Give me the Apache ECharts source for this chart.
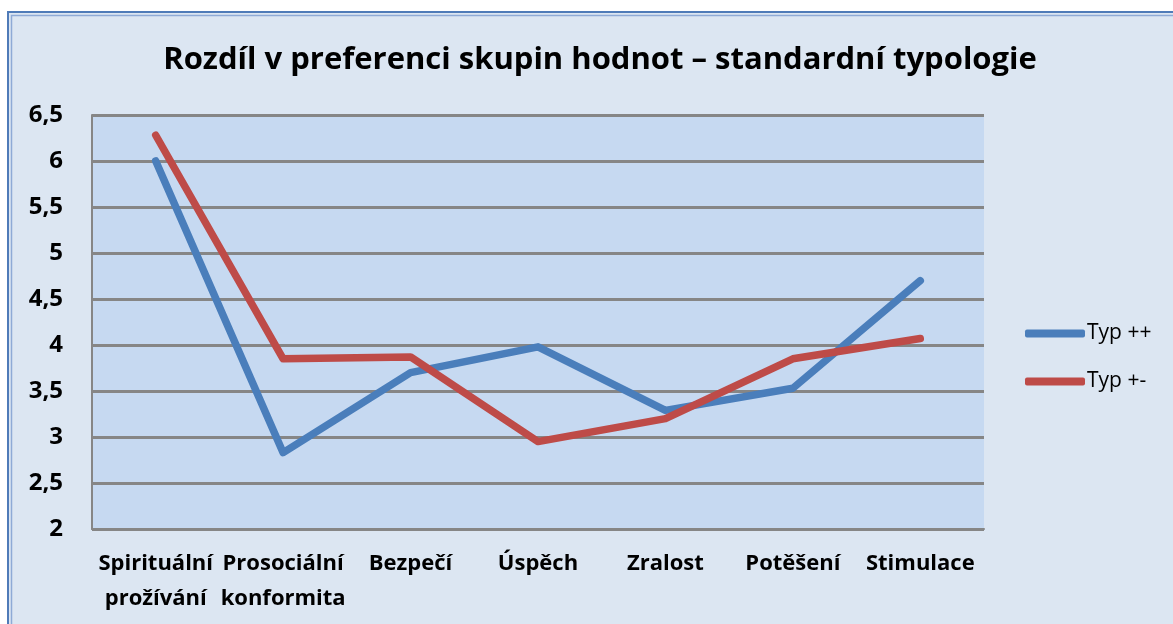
<!DOCTYPE html>
<html lang="cs">
<head>
  <meta charset="UTF-8">
  <title>Rozdíl v preferenci skupin hodnot</title>
  <script src="https://cdn.jsdelivr.net/npm/echarts@6/dist/echarts.min.js"></script>
</head>
<body style="margin:0;background:#fff;">
  <div id="main" style="width:1173px;height:624px;"></div>
<script>
  var categories = ['Spirituální\nprožívání', 'Prosociální\nkonformita', 'Bezpečí', 'Úspěch', 'Zralost', 'Potěšení', 'Stimulace'];
  var typPlusPlus = [6.0, 2.83, 3.70, 3.98, 3.29, 3.53, 4.70];
  var typPlusMinus = [6.28, 3.85, 3.87, 2.95, 3.20, 3.85, 4.07];
  var yTicks = { min: 2, max: 6.5, step: 0.5 };

  var myChart = echarts.init(document.getElementById('main'));
  var font = '"Open Sans", "Noto Sans", sans-serif';

  var option = {
    backgroundColor: '#fff',
    animation: false,
    // rámeček grafu (dvojitá modrá linka)
    graphic: [{
      type: 'rect', z: -10,
      shape: { x: 8, y: 12, width: 1200, height: 700 },
      style: { fill: '#dce6f2', stroke: '#4f7bb8', lineWidth: 2 }
    }, {
      type: 'rect', z: -9,
      shape: { x: 11.5, y: 15.5, width: 1200, height: 700 },
      style: { fill: 'none', stroke: '#8eaad6', lineWidth: 1.5 }
    }],
    title: {
      text: 'Rozdíl v preferenci skupin hodnot – standardní typologie',
      left: 595,
      textAlign: 'center',
      top: 40,
      textStyle: { fontFamily: font, fontWeight: 'bold', fontSize: 31, color: '#000' }
    },
    legend: {
      orient: 'vertical',
      left: 1020,
      top: 318,
      itemWidth: 60,
      itemHeight: 8,
      itemGap: 27,
      icon: 'roundRect',
      textStyle: { fontFamily: font, fontSize: 21, color: '#000', padding: [0, 0, 0, -3] },
      data: ['Typ ++', 'Typ +-']
    },
    grid: {
      left: 92, top: 115, right: 189, bottom: 95,
      show: true,
      backgroundColor: '#c6d9f1',
      borderWidth: 0
    },
    xAxis: {
      type: 'category',
      data: categories,
      boundaryGap: true,
      axisLine: { show: true, lineStyle: { color: '#868686', width: 2 } },
      axisTick: { show: false },
      axisLabel: {
        interval: 0,
        margin: 17,
        fontFamily: font, fontWeight: 'bold', fontSize: 22, color: '#000',
        lineHeight: 35
      }
    },
    yAxis: {
      type: 'value',
      min: yTicks.min, max: yTicks.max, interval: yTicks.step,
      axisLine: { show: true, lineStyle: { color: '#868686', width: 2 } },
      axisTick: { show: false },
      splitLine: { lineStyle: { color: '#868686', width: 3 } },
      axisLabel: {
        margin: 29,
        fontFamily: font, fontWeight: 'bold', fontSize: 24, color: '#000',
        formatter: function (v) { return String(v).replace('.', ','); }
      }
    },
    series: [{
      name: 'Typ ++',
      type: 'line',
      data: typPlusPlus,
      symbol: 'none',
      color: '#4a7ebb',
      lineStyle: { width: 7.5, cap: 'round', join: 'round' }
    }, {
      name: 'Typ +-',
      type: 'line',
      data: typPlusMinus,
      symbol: 'none',
      color: '#be4b48',
      lineStyle: { width: 7.5, cap: 'round', join: 'round' }
    }]
  };

  myChart.setOption(option);
</script>
</body>
</html>
